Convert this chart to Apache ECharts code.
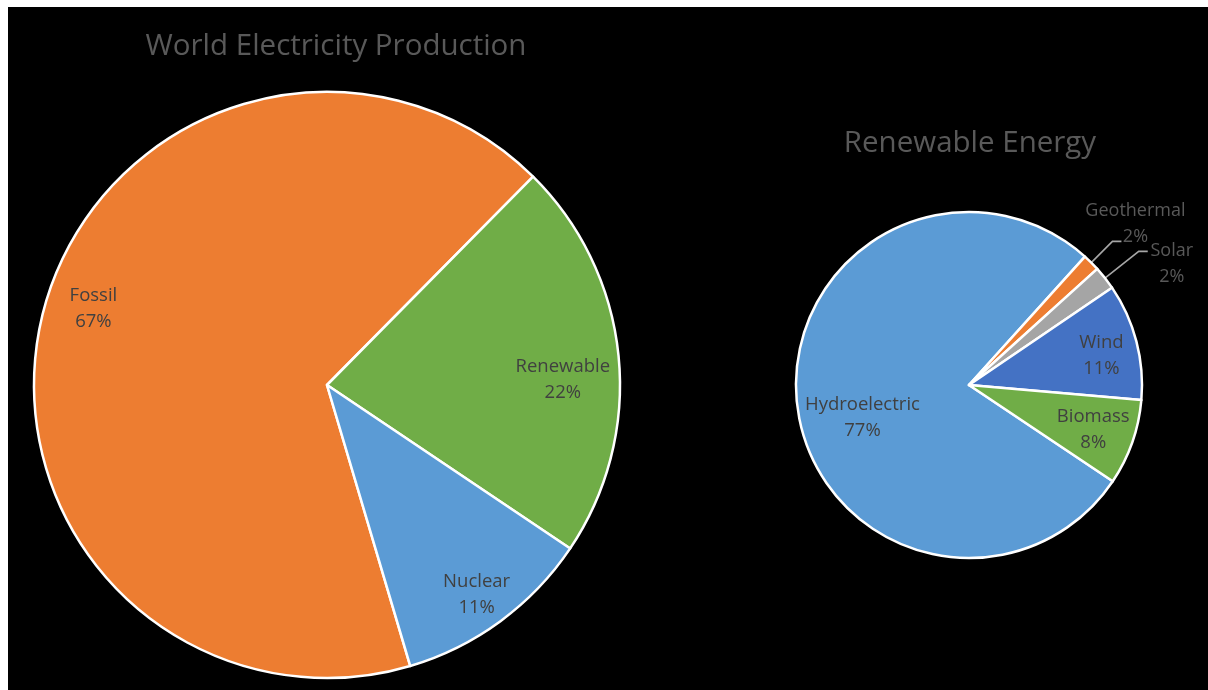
<!DOCTYPE html>
<html>
<head>
<meta charset="utf-8">
<script src="https://cdn.jsdelivr.net/npm/echarts@6/dist/echarts.min.js"></script>
<style>
  html, body { margin: 0; background: #fff; }
  #chart { position: absolute; left: 8px; top: 7px; width: 1200px; height: 683px; background: #000; }
</style>
</head>
<body>
<div id="chart"></div>
<script>
// World electricity production by source (%)
const worldCategories = ['Fossil', 'Renewable', 'Nuclear'];
const worldShares = [67, 22, 11];
const worldColors = ['#ED7D31', '#70AD47', '#5B9BD5'];

// Breakdown of the renewable share (%)
const renewCategories = ['Hydroelectric', 'Geothermal', 'Solar', 'Wind', 'Biomass'];
const renewShares = [77.3, 1.6, 2.2, 10.9, 8.0];
const renewColors = ['#5B9BD5', '#ED7D31', '#A5A5A5', '#4472C4', '#70AD47'];

// slices whose labels sit outside with a leader line
const outsideLabels = ['Geothermal', 'Solar'];

const FONT = '"Open Sans", "Noto Sans", sans-serif';
const TEXT = '#404040';

const chart = echarts.init(document.getElementById('chart'), null, { renderer: 'canvas' });

const pctLabel = p => p.name + '\n' + Math.round(p.percent) + '%';

function slices(names, values, colors) {
  return names.map((n, i) => ({ name: n, value: values[i], itemStyle: { color: colors[i] } }));
}
function labelRing(names, values, hidden) {
  return names.map((n, i) => ({
    name: n, value: values[i],
    label: { show: !(hidden || []).includes(n) }
  }));
}

const sliceStyle = { borderColor: '#fff', borderWidth: 2.5 };
const ringStyle = { color: 'rgba(0,0,0,0)', borderWidth: 0 };
const insideLabel = {
  show: true, position: 'inside', formatter: pctLabel,
  color: TEXT, fontSize: 18.5, lineHeight: 26, fontFamily: FONT
};

// small nudges so the inside labels sit where the text reads best
const worldNudge = { Fossil: [5, -16], Renewable: [-9, 19], Nuclear: [4, 11] };
const renewNudge = { Hydroelectric: [20, 17], Wind: [9, 3], Biomass: [4, 2] };

const renewData = slices(renewCategories, renewShares, renewColors).map(d => {
  if (outsideLabels.includes(d.name)) {
    d.label = {
      show: true, position: 'outside', formatter: pctLabel,
      color: '#595959', fontSize: 18, lineHeight: 26, fontFamily: FONT
    };
    d.labelLine = {
      show: true,
      length: d.name === 'Geothermal' ? 30 : 43,
      length2: 9,
      lineStyle: { color: '#A6A6A6', width: 1.6 }
    };
  }
  return d;
});

const titleStyle = { color: '#595959', fontSize: 29.5, fontWeight: 'normal', fontFamily: FONT };

chart.setOption({
  backgroundColor: '#000',
  animation: false,
  title: [
    { text: 'World Electricity Production', left: 328, top: 24.5, textAlign: 'center', padding: 0, textStyle: titleStyle },
    { text: 'Renewable Energy', left: 962, top: 122, textAlign: 'center', padding: 0, textStyle: titleStyle }
  ],
  series: [
    {
      type: 'pie', center: [319, 378], radius: [0, 293], startAngle: -73.5, clockwise: true,
      data: slices(worldCategories, worldShares, worldColors),
      itemStyle: sliceStyle, label: { show: false }, labelLine: { show: false },
      emphasis: { disabled: true }, silent: true
    },
    {
      type: 'pie', center: [319, 378], radius: [205, 281], startAngle: -73.5, clockwise: true,
      data: labelRing(worldCategories, worldShares),
      itemStyle: ringStyle, label: insideLabel, labelLine: { show: false },
      emphasis: { disabled: true }, silent: true,
      labelLayout: p => {
        const n = worldNudge[worldCategories[p.dataIndex]] || [0, 0];
        return { dx: n[0], dy: n[1] };
      }
    },
    {
      type: 'pie', center: [961, 378], radius: [0, 173], startAngle: -33.8, clockwise: true,
      avoidLabelOverlap: false,
      data: renewData,
      itemStyle: sliceStyle, label: { show: false }, labelLine: { show: false },
      emphasis: { disabled: true }, silent: true,
      labelLayout: p => {
        const pts = p.labelLinePoints;
        if (!pts) return {};
        const end = pts[pts.length - 1];
        if (renewCategories[p.dataIndex] === 'Geothermal') {
          return { x: end[0] + 14, y: end[1] + 9, align: 'center', verticalAlign: 'bottom', labelLinePoints: pts };
        }
        return { x: end[0] + 24, y: end[1] - 14, align: 'center', verticalAlign: 'top', labelLinePoints: pts };
      }
    },
    {
      type: 'pie', center: [961, 378], radius: [97, 152], startAngle: -33.8, clockwise: true,
      data: labelRing(renewCategories, renewShares, outsideLabels),
      itemStyle: ringStyle, label: insideLabel, labelLine: { show: false },
      emphasis: { disabled: true }, silent: true,
      labelLayout: p => {
        const n = renewNudge[renewCategories[p.dataIndex]] || [0, 0];
        return { dx: n[0], dy: n[1] };
      }
    }
  ]
});
</script>
</body>
</html>
